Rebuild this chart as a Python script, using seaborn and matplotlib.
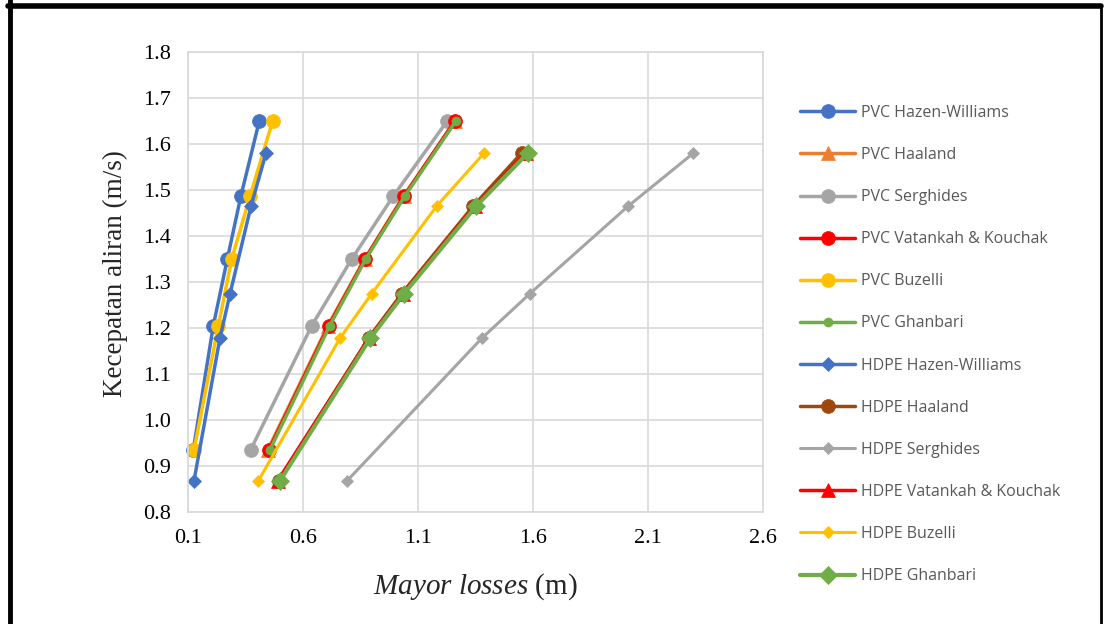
import matplotlib
matplotlib.use("Agg")
import matplotlib.pyplot as plt
from matplotlib.lines import Line2D
import seaborn as sns

# velocities (m/s)
v_pvc = [0.935, 1.205, 1.35, 1.487, 1.65]
v_hdpe = [0.868, 1.178, 1.275, 1.465, 1.58]

# major losses (m)
pvc_hazen = [0.123, 0.21, 0.271, 0.33, 0.41]
pvc_haaland = [0.447, 0.708, 0.868, 1.037, 1.262]
pvc_serghides = [0.372, 0.638, 0.812, 0.993, 1.227]
pvc_vatankah = [0.452, 0.712, 0.87, 1.04, 1.26]
pvc_buzelli = [0.126, 0.232, 0.29, 0.37, 0.468]
pvc_ghanbari = [0.456, 0.716, 0.873, 1.043, 1.265]
hdpe_hazen = [0.126, 0.239, 0.283, 0.374, 0.439]
hdpe_haaland = [0.495, 0.885, 1.03, 1.34, 1.55]
hdpe_serghides = [0.792, 1.378, 1.587, 2.014, 2.297]
hdpe_vatankah = [0.49, 0.888, 1.035, 1.348, 1.568]
hdpe_buzelli = [0.406, 0.761, 0.899, 1.181, 1.387]
hdpe_ghanbari = [0.5, 0.893, 1.04, 1.353, 1.577]

x_ticks = [0.1, 0.6, 1.1, 1.6, 2.1, 2.6]
y_ticks = [0.8, 0.9, 1.0, 1.1, 1.2, 1.3, 1.4, 1.5, 1.6, 1.7, 1.8]

sns.set_style("white")
plt.rcParams["font.family"] = ["Liberation Serif", "DejaVu Serif"]
plt.rcParams["mathtext.fontset"] = "custom"
plt.rcParams["mathtext.rm"] = "Liberation Serif"
plt.rcParams["mathtext.it"] = "Liberation Serif:italic"

fig = plt.figure(figsize=(11.08, 6.24), dpi=100)
ax = fig.add_axes([188 / 1108, 1 - 512 / 624, (763 - 188) / 1108, (512 - 52) / 624])

# (label, x, y, colour, marker, markersize, linewidth)
series = [
    ("PVC Hazen-Williams", pvc_hazen, v_pvc, "#4472C4", "o", 10, 2.5),
    ("PVC Haaland", pvc_haaland, v_pvc, "#ED7D31", "^", 10, 2.5),
    ("PVC Serghides", pvc_serghides, v_pvc, "#A5A5A5", "o", 10, 2.5),
    ("PVC Vatankah & Kouchak", pvc_vatankah, v_pvc, "#FF0000", "o", 10, 2.5),
    ("PVC Buzelli", pvc_buzelli, v_pvc, "#FFC000", "o", 10, 2.5),
    ("PVC Ghanbari", pvc_ghanbari, v_pvc, "#70AD47", "o", 6.5, 2.5),
    ("HDPE Hazen-Williams", hdpe_hazen, v_hdpe, "#4472C4", "D", 7, 2.5),
    ("HDPE Haaland", hdpe_haaland, v_hdpe, "#9E480E", "o", 10, 2.5),
    ("HDPE Serghides", hdpe_serghides, v_hdpe, "#A5A5A5", "D", 6.5, 2.2),
    ("HDPE Vatankah & Kouchak", hdpe_vatankah, v_hdpe, "#FF0000", "^", 10, 2.5),
    ("HDPE Buzelli", hdpe_buzelli, v_hdpe, "#FFC000", "D", 6.5, 2.2),
    ("HDPE Ghanbari", hdpe_ghanbari, v_hdpe, "#70AD47", "D", 9.5, 3),
]

for label, xs, ys, color, marker, ms, lw in series:
    sns.lineplot(x=xs, y=ys, ax=ax, color=color, marker=marker, markersize=ms,
                 linewidth=lw, markeredgecolor=color, markeredgewidth=0.5,
                 sort=False, label=label, clip_on=False)

ax.set_xlim(0.1, 2.6)
ax.set_ylim(0.8, 1.8)
ax.set_xticks(x_ticks)
ax.set_yticks(y_ticks)
ax.set_xticklabels([f"{t:.1f}" for t in x_ticks])
ax.set_yticklabels([f"{t:.1f}" for t in y_ticks])
ax.tick_params(length=0, labelsize=16, pad=12, colors="#000000")
ax.grid(True, color="#D9D9D9", linewidth=1.2)
ax.set_axisbelow(True)
for sp in ax.spines.values():
    sp.set_color("#D9D9D9")
    sp.set_linewidth(1.2)

ax.set_xlabel(r"$\mathit{Mayor\ losses}$ (m)", fontsize=21, labelpad=17)
ax.set_ylabel("Kecepatan aliran (m/s)", fontsize=19.5)
ax.yaxis.set_label_coords(-0.105, (512 - 274) / 460)

ax.legend(loc="center left", bbox_to_anchor=(800 / 1108, 1 - 344.5 / 624),
          bbox_transform=fig.transFigure, frameon=False, borderpad=0,
          borderaxespad=0, handlelength=3.45, handletextpad=0.4,
          labelspacing=1.635, prop={"family": "Open Sans", "size": 11.5},
          labelcolor="#595959")

# frame around the picture
for xs, ys, w in [((10, 10), (0, 6), 3.5), ((8, 1101), (6, 6), 4), ((1101, 1101), (6, 624), 2)]:
    fig.add_artist(Line2D([x / 1108 for x in xs], [1 - y / 624 for y in ys],
                          transform=fig.transFigure, color="black", linewidth=w))
fig.add_artist(Line2D([10 / 1108, 10 / 1108], [0, 1 - 6 / 624],
                      transform=fig.transFigure, color="black", linewidth=3.5))

fig.savefig("out.png", dpi=100)
